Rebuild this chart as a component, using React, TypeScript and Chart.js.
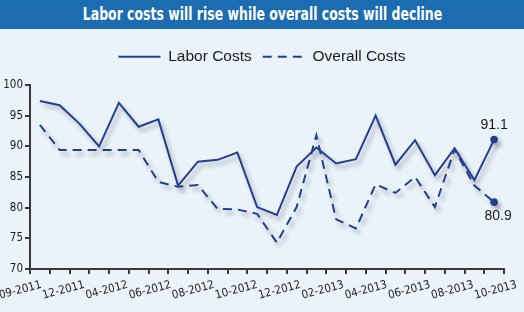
import React, { useEffect, useRef } from "react";
import { Chart, registerables } from "chart.js";

Chart.register(...registerables);

const TITLE = "Labor costs will rise while overall costs will decline";

// Monthly periods on the category axis (one point per month)
const periods = [
  "10-2011", "11-2011", "12-2011", "01-2012", "02-2012", "03-2012",
  "04-2012", "05-2012", "06-2012", "07-2012", "08-2012", "09-2012",
  "10-2012", "11-2012", "12-2012", "01-2013", "02-2013", "03-2013",
  "04-2013", "05-2013", "06-2013", "07-2013", "08-2013", "09-2013",
];

const laborCosts = [
  97.4, 96.7, 93.7, 90.0, 97.1, 93.2, 94.4, 83.6, 87.5, 87.8, 89.0, 80.1,
  78.8, 86.7, 89.8, 87.2, 87.9, 95.0, 87.0, 91.0, 85.3, 89.7, 84.5, 91.1,
];

const overallCosts = [
  93.5, 89.4, 89.4, 89.4, 89.4, 89.4, 84.2, 83.4, 83.7, 79.8, 79.7, 79.0,
  74.3, 80.1, 91.8, 78.1, 76.6, 83.8, 82.4, 85.0, 80.1, 89.5, 83.6, 80.9,
];

// Date labels spread evenly under the axis
const dateLabels = [
  "09-2011", "12-2011", "04-2012", "06-2012", "08-2012", "10-2012",
  "12-2012", "02-2013", "04-2013", "06-2013", "08-2013", "10-2013",
];

const Y_MIN = 70;
const Y_MAX = 100;
const Y_STEP = 5;

const LINE_COLOR = "#243f90";
const AXIS_COLOR = "#3a3a3a";
const TEXT_COLOR = "#1a1a1a";
const NARROW = '"DejaVu Sans Condensed", "Liberation Sans Narrow", "Arial Narrow", sans-serif';
const SANS = '"Liberation Sans", Arial, sans-serif';

// Range of the label axis, so the evenly spaced dates sit where they belong
const LABEL_AXIS_MIN = -0.26;
const LABEL_AXIS_MAX = 10.71;

// Where each series' end value is written relative to its last point
const endLabelOffsets = [
  { dx: 0, dy: -14 },
  { dx: 4, dy: 14 },
];

const lineShadow = {
  id: "lineShadow",
  beforeDatasetDraw(chart: any) {
    const c = chart.ctx;
    c.save();
    c.shadowColor = "rgba(40, 40, 40, 0.35)";
    c.shadowBlur = 4;
    c.shadowOffsetX = 3;
    c.shadowOffsetY = 4;
  },
  afterDatasetDraw(chart: any) {
    chart.ctx.restore();
  },
};

const endLabels = {
  id: "endLabels",
  afterDatasetsDraw(chart: any) {
    const ctx = chart.ctx;
    chart.data.datasets.forEach((ds: any, di: number) => {
      const meta = chart.getDatasetMeta(di);
      const last = ds.data.length - 1;
      const pt = meta.data[last];
      const off = endLabelOffsets[di];
      ctx.save();
      ctx.font = `14px ${SANS}`;
      ctx.fillStyle = TEXT_COLOR;
      ctx.textAlign = "center";
      ctx.textBaseline = "middle";
      ctx.fillText(Number(ds.data[last]).toFixed(1), pt.x + off.dx, pt.y + off.dy);
      ctx.restore();
    });
  },
};

// Extra room between the legend row and the plot
const legendGap = {
  id: "legendGap",
  beforeLayout(chart: any) {
    const legend = chart.legend;
    if (legend && !legend.__gap) {
      const fit = legend.fit.bind(legend);
      legend.fit = function () {
        fit();
        this.height += 10.5;
      };
      legend.__gap = true;
    }
  },
};

function CostsChart() {
  const ref = useRef<HTMLCanvasElement | null>(null);

  useEffect(() => {
    if (!ref.current) return;
    const lastIdx = periods.length - 1;
    const endPoint = (ctx: any) => (ctx.dataIndex === lastIdx ? 3.8 : 0);
    const baseLabels = Chart.defaults.plugins.legend.labels.generateLabels;

    const chart = new Chart(ref.current, {
      type: "line",
      data: {
        labels: periods,
        datasets: [
          {
            label: "Labor Costs",
            data: laborCosts,
            borderColor: LINE_COLOR,
            backgroundColor: LINE_COLOR,
            borderWidth: 2,
            tension: 0,
            pointRadius: endPoint,
            pointHoverRadius: endPoint,
            pointBorderWidth: 0,
            pointBackgroundColor: LINE_COLOR,
          },
          {
            label: "Overall Costs",
            data: overallCosts,
            borderColor: LINE_COLOR,
            backgroundColor: LINE_COLOR,
            borderWidth: 2,
            borderDash: [9, 6],
            tension: 0,
            pointRadius: endPoint,
            pointHoverRadius: endPoint,
            pointBorderWidth: 0,
            pointBackgroundColor: LINE_COLOR,
          },
        ],
      },
      options: {
        responsive: false,
        animation: false,
        events: [],
        layout: { padding: { top: 9, right: 0, bottom: 0, left: 0 } },
        plugins: {
          title: { display: false },
          tooltip: { enabled: false },
          legend: {
            display: true,
            position: "top",
            align: "center",
            labels: {
              usePointStyle: true,
              pointStyle: "line",
              pointStyleWidth: 42,
              boxWidth: 42,
              padding: 11,
              color: TEXT_COLOR,
              font: { family: SANS, size: 15.5 },
              // legend samples use the series' line width and dash pattern
              generateLabels: (chart: any) =>
                baseLabels(chart).map((item: any) => {
                  const ds = chart.data.datasets[item.datasetIndex];
                  return {
                    ...item,
                    lineWidth: ds.borderWidth,
                    lineDash: ds.borderDash || [],
                    strokeStyle: ds.borderColor,
                  };
                }),
            },
          },
        },
        scales: {
          x: {
            type: "category",
            offset: true,
            position: "bottom",
            grid: {
              offset: true,
              drawOnChartArea: false,
              drawTicks: true,
              tickLength: 5,
              color: AXIS_COLOR,
              lineWidth: 2,
            },
            border: { color: AXIS_COLOR, width: 2 },
            ticks: { display: false },
            afterFit: (scale: any) => {
              scale.height = 5;
            },
          },
          dates: {
            type: "linear",
            position: "bottom",
            weight: 1,
            min: LABEL_AXIS_MIN,
            max: LABEL_AXIS_MAX,
            grid: { display: false, drawTicks: false },
            border: { display: false },
            afterBuildTicks: (scale: any) => {
              scale.ticks = dateLabels.map((_, i) => ({ value: i }));
            },
            afterFit: (scale: any) => {
              // room on the right for the last date label
              scale.height = 38;
              scale.paddingLeft = 0;
              scale.paddingRight = 20;
            },
            ticks: {
              autoSkip: false,
              minRotation: 15,
              maxRotation: 15,
              padding: 4,
              color: TEXT_COLOR,
              font: { family: NARROW, size: 11.5 },
              callback: (_v: any, i: number) => dateLabels[i],
            },
          },
          y: {
            min: Y_MIN,
            max: Y_MAX,
            grid: {
              drawOnChartArea: false,
              drawTicks: true,
              tickLength: 5,
              color: AXIS_COLOR,
              lineWidth: 2,
            },
            border: { color: AXIS_COLOR, width: 2 },
            ticks: {
              stepSize: Y_STEP,
              padding: 2,
              color: TEXT_COLOR,
              font: { family: NARROW, size: 11.5 },
            },
            afterFit: (scale: any) => {
              scale.width = 30;
            },
          },
        },
      },
      plugins: [lineShadow, endLabels, legendGap],
    });

    return () => chart.destroy();
  }, []);

  return (
    <canvas
      ref={ref}
      width={524}
      height={283}
      style={{ display: "block", width: 524, height: 283 }}
    />
  );
}

export default function App() {
  return (
    <div
      style={{
        position: "fixed",
        left: 0,
        top: 0,
        width: 524,
        height: 312,
        background: "#eaf2fa",
        overflow: "hidden",
      }}
    >
      <div
        style={{
          height: 29,
          background: "#1b6cb1",
          textAlign: "center",
          whiteSpace: "nowrap",
        }}
      >
        <span
          style={{
            display: "inline-block",
            color: "#ffffff",
            fontFamily: NARROW,
            fontWeight: "bold",
            fontSize: 17,
            lineHeight: "29px",
            transform: "scaleX(0.815)",
            transformOrigin: "center",
          }}
        >
          {TITLE}
        </span>
      </div>
      <CostsChart />
    </div>
  );
}
